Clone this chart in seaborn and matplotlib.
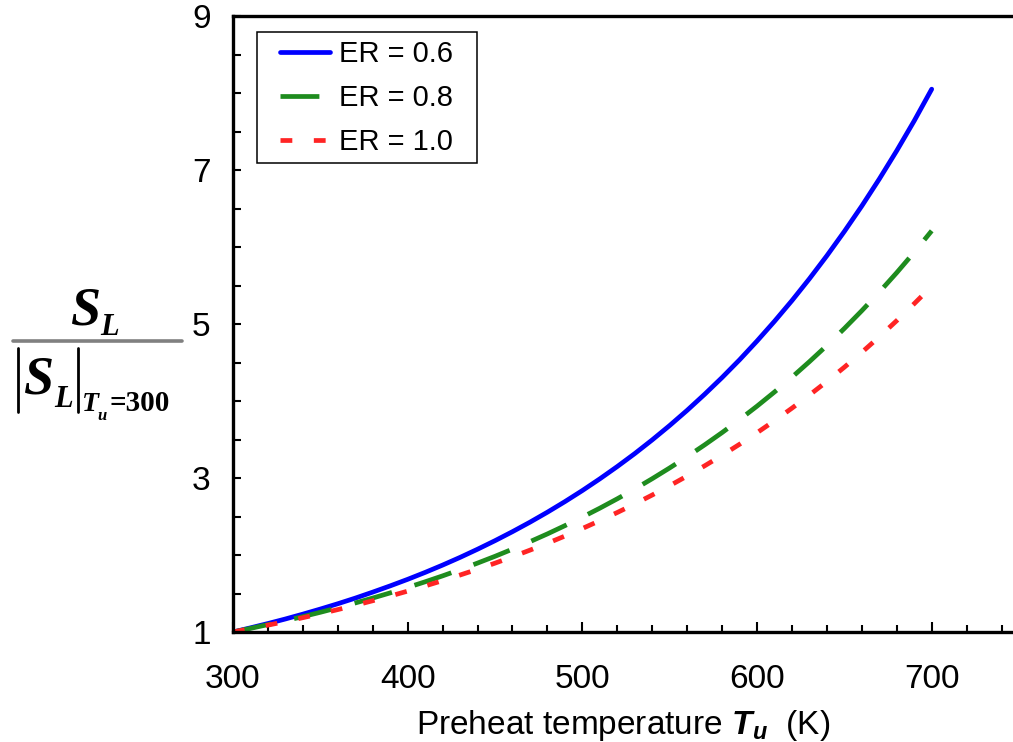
import numpy as np
import pandas as pd
import matplotlib
matplotlib.use("Agg")
import matplotlib.pyplot as plt
from matplotlib.lines import Line2D
from matplotlib.patches import Rectangle
from matplotlib.ticker import MultipleLocator
import seaborn as sns

# ---------------- data ----------------
temperature = [300, 310, 320, 330, 340, 350, 360, 370, 380, 390, 400,
               410, 420, 430, 440, 450, 460, 470, 480, 490, 500,
               510, 520, 530, 540, 550, 560, 570, 580, 590, 600,
               610, 620, 630, 640, 650, 660, 670, 680, 690, 700]
er06 = [1.000, 1.054, 1.110, 1.169, 1.232, 1.298, 1.367, 1.440, 1.518, 1.599, 1.684,
        1.774, 1.869, 1.969, 2.075, 2.186, 2.303, 2.426, 2.556, 2.693, 2.837,
        2.989, 3.149, 3.317, 3.495, 3.682, 3.879, 4.087, 4.305, 4.535, 4.779,
        5.035, 5.304, 5.588, 5.887, 6.202, 6.533, 6.883, 7.251, 7.639, 8.050]
er08 = [1.000, 1.047, 1.096, 1.147, 1.200, 1.256, 1.315, 1.377, 1.441, 1.508, 1.579,
        1.652, 1.729, 1.810, 1.895, 1.983, 2.076, 2.173, 2.274, 2.381, 2.492,
        2.608, 2.730, 2.857, 2.991, 3.131, 3.277, 3.430, 3.590, 3.758, 3.933,
        4.117, 4.309, 4.511, 4.721, 4.942, 5.173, 5.414, 5.667, 5.932, 6.210]
er10 = [1.000, 1.044, 1.089, 1.136, 1.186, 1.237, 1.291, 1.347, 1.406, 1.467, 1.531,
        1.598, 1.667, 1.740, 1.815, 1.894, 1.977, 2.063, 2.152, 2.246, 2.344,
        2.446, 2.552, 2.663, 2.779, 2.900, 3.026, 3.158, 3.295, 3.438, 3.588,
        3.744, 3.907, 4.077, 4.254, 4.439, 4.632, 4.834, 5.044, 5.264, 5.490]
series_labels = ["ER = 0.6", "ER = 0.8", "ER = 1.0"]
x_ticks = [300, 400, 500, 600, 700]
y_ticks = [1, 3, 5, 7, 9]

df = pd.concat([
    pd.DataFrame({"T": temperature, "ratio": vals, "ER": lab})
    for vals, lab in zip([er06, er08, er10], series_labels)
], ignore_index=True)

# ---------------- style ----------------
sns.set_style("white")
plt.rcParams["font.family"] = ["Liberation Sans", "DejaVu Sans"]
plt.rcParams["text.color"] = "black"
plt.rcParams["axes.labelcolor"] = "black"
plt.rcParams["xtick.color"] = "black"
plt.rcParams["ytick.color"] = "black"
plt.rcParams["lines.scale_dashes"] = False
plt.rcParams["mathtext.fontset"] = "custom"
plt.rcParams["mathtext.bf"] = "Liberation Sans:bold:italic"
plt.rcParams["mathtext.rm"] = "Liberation Sans"
plt.rcParams["mathtext.it"] = "Liberation Sans:italic"

W, H = 1013, 742
fig = plt.figure(figsize=(W / 100, H / 100), dpi=100)
fig.patch.set_facecolor("white")

def fx(px):
    return px / W

def fy(py):
    return 1 - py / H

ax_l, ax_r, ax_t, ax_b = 233, 1013, 16, 632
ax = fig.add_axes([fx(ax_l), fy(ax_b), (ax_r - ax_l) / W, (ax_b - ax_t) / H])
ax.set_facecolor("white")

palette = {"ER = 0.6": "#0000FF", "ER = 0.8": "#1E8C1E", "ER = 1.0": "#FF2424"}
dashes = {"ER = 0.6": "", "ER = 0.8": (28, 17), "ER = 1.0": (8.5, 15.5)}

sns.lineplot(data=df, x="T", y="ratio", hue="ER", style="ER",
             palette=palette, dashes=dashes, hue_order=series_labels,
             style_order=series_labels, linewidth=3.4, legend=False, ax=ax,
             estimator=None, sort=False)

for ln in ax.get_lines():
    ln.set_dash_capstyle("butt")
    ln.set_solid_capstyle("round")

# axes range
px_per_unit = (931.7 - 233) / 400
ax.set_xlim(300, 300 + (ax_r - ax_l) / px_per_unit)
ax.set_ylim(1, 9)

ax.set_xticks(x_ticks)
ax.set_yticks(y_ticks)
ax.xaxis.set_minor_locator(MultipleLocator(20))
ax.yaxis.set_minor_locator(MultipleLocator(0.5))
ax.tick_params(axis="both", which="both", direction="in", colors="black",
               width=1.5, labelsize=24, bottom=True, left=True,
               top=False, right=False)
ax.tick_params(axis="x", which="major", length=7.5, pad=23)
ax.tick_params(axis="x", which="minor", length=5)
ax.tick_params(axis="y", which="major", length=6, pad=16)
ax.tick_params(axis="y", which="minor", length=6)

for side in ["left", "bottom", "top"]:
    ax.spines[side].set_visible(True)
    ax.spines[side].set_linewidth(2.4)
    ax.spines[side].set_color("black")
ax.spines["right"].set_visible(False)

ax.set_xlabel(r"Preheat temperature $\mathbf{T}_{\mathbf{u}}$  (K)",
              fontsize=24, va="baseline", color="black")
ax.xaxis.set_label_coords(0.5, (ax_b - 734) / (ax_b - ax_t))
ax.set_ylabel("")

# legend
handles = ax.get_lines()[:3]
leg = ax.legend(handles, series_labels, loc="upper left",
                bbox_to_anchor=((280 - ax_l) / (ax_r - ax_l), (ax_b - 40) / (ax_b - ax_t)),
                frameon=False, borderpad=0, borderaxespad=0,
                handlelength=36 / 21, handletextpad=0.3, labelspacing=0.55,
                fontsize=21)
leg.set_zorder(6)
box = Rectangle(((257 - ax_l) / (ax_r - ax_l), (ax_b - 163) / (ax_b - ax_t)),
                220 / (ax_r - ax_l), 131 / (ax_b - ax_t),
                transform=ax.transAxes, facecolor="white", edgecolor="black",
                linewidth=1.1, zorder=5)
ax.add_patch(box)

# y-axis label: S_L / |S_L|_{T_u=300}
serif_bi = dict(family="Liberation Serif", weight="bold", style="italic")
serif_b = dict(family="Liberation Serif", weight="bold", style="normal")

def put(x, y, s, size, props):
    fig.text(fx(x), fy(y), s, fontsize=size, ha="left", va="baseline",
             color="black", **props)

put(70, 325, "S", 39, serif_bi)
put(100, 335, "L", 22, serif_bi)
fig.add_artist(Line2D([fx(13), fx(182)], [fy(341), fy(341)], color="#808080",
                      linewidth=2.6, transform=fig.transFigure))
fig.add_artist(Line2D([fx(17.5), fx(17.5)], [fy(348), fy(412)], color="black",
                      linewidth=2.0, transform=fig.transFigure))
put(23, 393, "S", 39, serif_bi)
put(54, 407, "L", 22, serif_bi)
fig.add_artist(Line2D([fx(78), fx(78)], [fy(348), fy(412)], color="black",
                      linewidth=2.0, transform=fig.transFigure))
put(82, 411, "T", 20, serif_bi)
put(97, 420, "u", 12, serif_bi)
put(109, 411, "=300", 21, serif_b)

fig.savefig("out.png", dpi=100, facecolor="white")
